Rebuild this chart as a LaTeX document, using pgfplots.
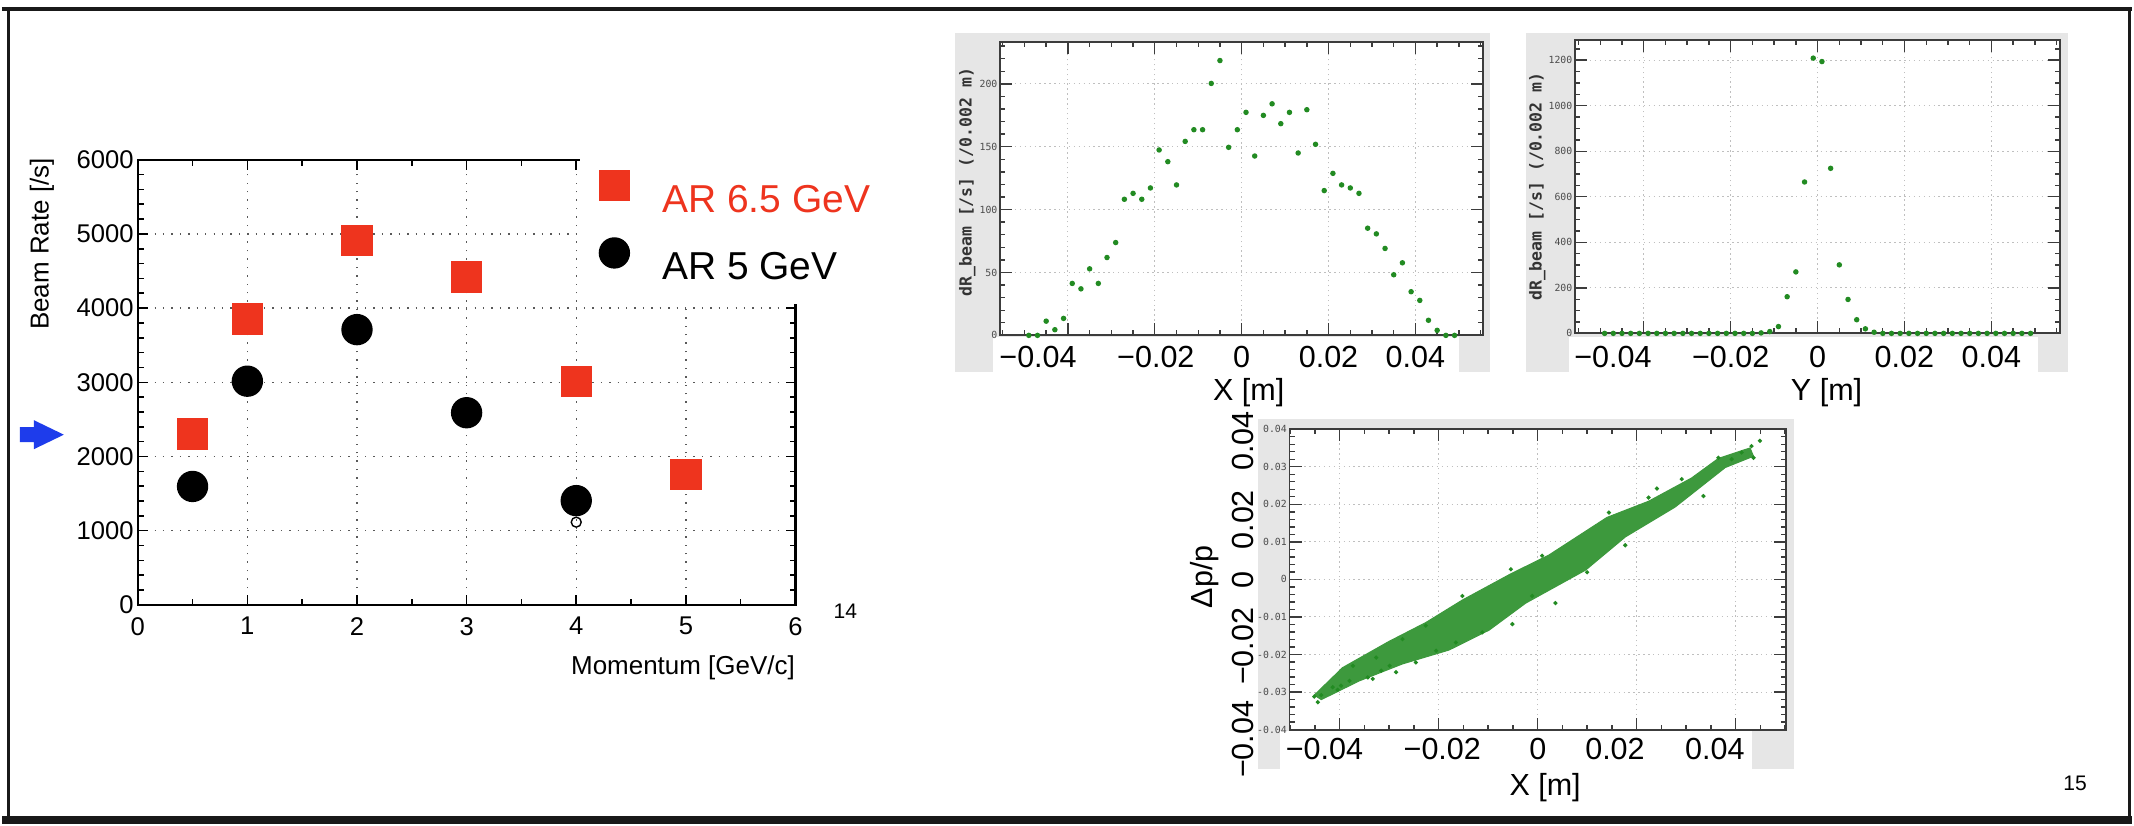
\documentclass[border=0pt]{standalone}
\usepackage{fontspec}
\setmainfont{Liberation Sans}
\setmonofont{DejaVu Sans Mono}
\usepackage{pgfplots}
\pgfplotsset{compat=1.18}
\definecolor{arred}{RGB}{238,52,30}
\definecolor{arblue}{RGB}{30,60,235}
\definecolor{dgreen}{RGB}{34,139,34}
\definecolor{rootgrey}{RGB}{230,230,230}
\definecolor{framegrey}{RGB}{60,60,60}
\newcommand{\bigf}{\fontsize{8.7}{10}\selectfont}
\pgfplotsset{
 rootsmall/.style={
   scale only axis, anchor=south west,
   axis background/.style={fill=white},
   tick align=inside,
   axis line style={framegrey, line width=0.5pt},
   tick style={framegrey, line width=0.4pt},
   major tick length=0.12cm, minor tick length=0.05cm,
   grid=major, major grid style={black!25, densely dotted, line width=0.3pt},
   yticklabel style={font=\ttfamily\fontsize{2.8}{3}\selectfont, text=black!70, inner sep=0.6pt},
   /pgf/number format/assume math mode=true,
   /pgf/number format/1000 sep={},
   xticklabels={},
   scaled ticks=false,
 }
}
\begin{document}
\begin{tikzpicture}
\fill[white] (0,0) rectangle (21.34,8.26);
% slide frame
\fill[black!90] (0,0) rectangle (21.34,0.08);
\draw[black!90, line width=0.04cm] (0,8.17) -- (21.34,8.17);
\draw[black!90, line width=0.03cm] (0.065,8.19) -- (0.065,0);
\draw[black!90, line width=0.03cm] (21.31,8.19) -- (21.31,0);

% ---------------- left plot ----------------
\begin{axis}[at={(1.36cm,2.20cm)}, anchor=south west, scale only axis,
  width=6.59cm, height=4.46cm,
  xmin=0, xmax=6, ymin=0, ymax=6000,
  xtick={0,1,...,6}, ytick={0,1000,...,6000},
  minor x tick num=1, minor y tick num=4,
  tick align=inside, major tick length=0.10cm, minor tick length=0.06cm,
  axis line style={line width=0.7pt},
  tick style={black, line width=0.45pt},
  grid=major, major grid style={black!65, dotted, line width=0.4pt},
  ticklabel style={font=\fontsize{7.3}{8}\selectfont},
  yticklabel style={inner xsep=1pt},
  /pgf/number format/assume math mode=true,
  scaled ticks=false, yticklabel style={/pgf/number format/1000 sep={}},
  xlabel={Momentum [GeV/c]}, ylabel={Beam Rate [/s]},
  label style={font=\fontsize{7.4}{8}\selectfont},
  xlabel style={at={(axis description cs:1,-0.141)}, anchor=east, inner sep=0pt},
  ylabel style={at={(axis description cs:-0.1457,1.005)}, anchor=east, inner sep=0pt},
  legend style={at={(axis description cs:0.672,1.022)}, anchor=north west,
    draw=none, fill=white, inner xsep=0.19cm, inner ysep=0.2cm,
    font=\fontsize{11.1}{13}\selectfont, row sep=0.21cm,
    nodes={inner sep=0pt, text height=0.30cm, text depth=0.05cm}},
  legend cell align=left,
  legend image code/.code={\path[draw=none,fill=none] (0,0) -- (0.63cm,0); \draw[#1] plot coordinates {(0.15cm,0.14cm)};},
]
\addplot[only marks, mark=square*, mark size=0.15cm, color=arred] coordinates {
 (0.5,2305) (1,3852) (2,4915) (3,4419) (4,3015) (5,1753)};
\addlegendentry{\textcolor{arred}{AR 6.5 GeV}}
\addplot[only marks, mark=*, mark size=0.15cm, color=black] coordinates {
 (0.5,1596) (1,3015) (2,3710) (3,2590) (4,1405)};
\addlegendentry{AR 5 GeV}
\addplot[only marks, mark=o, mark size=0.05cm, color=black, line width=0.4pt, forget plot] coordinates {(4,1115)};
\end{axis}
% blue arrow
\fill[arblue] (0.18,3.98) -- (0.32,3.98) -- (0.32,4.05) -- (0.62,3.905) -- (0.32,3.76) -- (0.32,3.83) -- (0.18,3.83) -- cycle;
\node[font=\fontsize{6}{7}\selectfont] at (8.45,2.14) {14};

% ---------------- top middle: X distribution ----------------
\fill[rootgrey] (9.55,7.93) rectangle (14.91,4.53);
\fill[white] (9.93,4.88) rectangle (14.60,4.50);
\begin{axis}[rootsmall, at={(10.00cm,4.90cm)}, width=4.84cm, height=2.94cm,
  xmin=-0.0556, xmax=0.0556, ymin=0, ymax=233.3,
  xtick={-0.04,-0.02,0,0.02,0.04},
  minor xtick={-0.055,-0.05,...,0.056},
  ytick={0,50,100,150,200}, minor ytick={10,20,...,230},
  ylabel={dR\_beam [/s] (/0.002 m)},
  ylabel style={font=\ttfamily\bfseries\fontsize{4.7}{5}\selectfont, text=black!80, at={(axis description cs:-0.068,0.522)}, anchor=center, inner sep=0pt},
]
\addplot[only marks, mark=*, mark size=0.02cm, color=dgreen] table {
x y
-0.049 0
-0.047 0
-0.045 11.3
-0.043 4.5
-0.041 13.5
-0.039 41.3
-0.037 37
-0.035 52.9
-0.033 41.3
-0.031 61.9
-0.029 73.8
-0.027 108.2
-0.025 112.9
-0.023 108.2
-0.021 117.2
-0.019 147.4
-0.017 138.1
-0.015 119.6
-0.013 154.2
-0.011 163.5
-0.009 163.5
-0.007 200.3
-0.005 218.5
-0.003 149.5
-0.001 163.5
0.001 177.3
0.003 142.6
0.005 174.9
0.007 184.1
0.009 168.3
0.011 177.3
0.013 145
0.015 179.4
0.017 151.9
0.019 115.1
0.021 128.8
0.023 119.6
0.025 117.2
0.027 112.9
0.029 85.2
0.031 80.7
0.033 69.1
0.035 48.2
0.037 57.7
0.039 34.7
0.041 27.8
0.043 12
0.045 4
0.047 0
0.049 0
};
\end{axis}
\node[font=\bigf] at (10.38,4.68) {−0.04};
\node[font=\bigf] at (11.56,4.68) {−0.02};
\node[font=\bigf] at (12.42,4.68) {0};
\node[font=\bigf] at (13.29,4.68) {0.02};
\node[font=\bigf] at (14.16,4.68) {0.04};
\node[font=\bigf] at (12.49,4.33) {X [m]};

% ---------------- top right: Y distribution ----------------
\fill[rootgrey] (15.27,7.93) rectangle (20.70,4.53);
\fill[white] (15.70,4.88) rectangle (20.40,4.50);
\begin{axis}[rootsmall, at={(15.76cm,4.92cm)}, width=4.86cm, height=2.94cm,
  xmin=-0.0558, xmax=0.0558, ymin=0, ymax=1289,
  xtick={-0.04,-0.02,0,0.02,0.04},
  minor xtick={-0.055,-0.05,...,0.056},
  ytick={0,200,...,1200}, minor ytick={50,100,...,1250},
  ylabel={dR\_beam [/s] (/0.002 m)},
  ylabel style={font=\ttfamily\bfseries\fontsize{4.7}{5}\selectfont, text=black!80, at={(axis description cs:-0.078,0.50)}, anchor=center, inner sep=0pt},
]
\addplot[only marks, mark=*, mark size=0.02cm, color=dgreen] table {
x y
-0.049 0
-0.047 0
-0.045 0
-0.043 0
-0.041 0
-0.039 0
-0.037 0
-0.035 0
-0.033 0
-0.031 0
-0.029 0
-0.027 0
-0.025 0
-0.023 0
-0.021 0
-0.019 0
-0.017 0
-0.015 0
-0.013 2
-0.011 8
-0.009 30
-0.007 161
-0.005 270
-0.003 665
-0.001 1209
0.001 1194
0.003 725
0.005 301
0.007 149
0.009 60
0.011 20
0.013 5
0.015 0
0.017 0
0.019 0
0.021 0
0.023 0
0.025 0
0.027 0
0.029 0
0.031 0
0.033 0
0.035 0
0.037 0
0.039 0
0.041 0
0.043 0
0.045 0
0.047 0
0.049 0
};
\end{axis}
\node[font=\bigf] at (16.14,4.68) {−0.04};
\node[font=\bigf] at (17.32,4.68) {−0.02};
\node[font=\bigf] at (18.19,4.68) {0};
\node[font=\bigf] at (19.06,4.68) {0.02};
\node[font=\bigf] at (19.93,4.68) {0.04};
\node[font=\bigf] at (18.28,4.33) {Y [m]};

% ---------------- bottom: scatter ----------------
\fill[rootgrey] (12.58,4.06) rectangle (17.95,0.56);
\fill[white] (12.80,0.94) rectangle (17.53,0.50);
\begin{axis}[rootsmall, at={(12.90cm,0.95cm)}, width=4.97cm, height=3.01cm,
  xmin=-0.0501, xmax=0.0501, ymin=-0.04, ymax=0.04,
  xtick={-0.04,-0.02,0,0.02,0.04},
  minor xtick={-0.05,-0.045,...,0.051},
  ytick={-0.04,-0.03,...,0.041}, minor ytick={-0.04,-0.038,...,0.041},
  yticklabels={-0.04,-0.03,-0.02,-0.01,0,0.01,0.02,0.03,0.04},
]
\addplot[fill=dgreen!88!white, draw=dgreen!88!white, line width=0.3pt] coordinates {
 (-0.0451,-0.0308) (-0.0394,-0.0235) (-0.0300,-0.0165) (-0.0226,-0.0115) (-0.0152,-0.0055)
 (-0.0054,0.0015) (0.0023,0.0065) (0.0140,0.0165) (0.0224,0.0208) (0.0311,0.0270)
 (0.0365,0.0322) (0.0429,0.0350)
 (0.0436,0.0328) (0.0379,0.0298) (0.0278,0.0193) (0.0177,0.0113) (0.0097,0.0025)
 (-0.0024,-0.0063) (-0.0098,-0.0135) (-0.0179,-0.0188) (-0.0273,-0.0225) (-0.0360,-0.0270)
 (-0.0437,-0.0320)} -- cycle;
\addplot[only marks, mark=*, mark size=0.013cm, color=dgreen] table {
x y
-0.0451 -0.0312
-0.0444 -0.0327
-0.0437 -0.0308
-0.0414 -0.0287
-0.0404 -0.0294
-0.0397 -0.0283
-0.0380 -0.0270
-0.0373 -0.0230
-0.0343 -0.0261
-0.0333 -0.0265
-0.0316 -0.0243
-0.0299 -0.0230
-0.0326 -0.0208
-0.0273 -0.0159
-0.0226 -0.0123
-0.0286 -0.0247
-0.0246 -0.0221
-0.0205 -0.0190
-0.0165 -0.0168
-0.0112 -0.0141
-0.0051 -0.0119
-0.0011 -0.0044
0.0036 -0.0063
0.0100 0.0019
0.0177 0.0091
0.0241 0.0242
0.0291 0.0267
0.0335 0.0222
0.0365 0.0324
0.0392 0.0320
0.0412 0.0338
0.0432 0.0355
0.0449 0.0369
0.0436 0.0324
-0.0152 -0.0044
-0.0054 0.0027
0.0009 0.0063
0.0144 0.0178
0.0224 0.0218
};
\end{axis}
\node[font=\bigf, rotate=90] at (12.43,3.843) {0.04};
\node[font=\bigf, rotate=90] at (12.43,3.053) {0.02};
\node[font=\bigf, rotate=90] at (12.43,2.45) {0};
\node[font=\bigf, rotate=90] at (12.43,1.785) {−0.02};
\node[font=\bigf, rotate=90] at (12.43,0.853) {−0.04};
\node[font=\bigf, rotate=90] at (12.05,2.48) {Δp/p};
\node[font=\bigf] at (13.25,0.753) {−0.04};
\node[font=\bigf] at (14.43,0.753) {−0.02};
\node[font=\bigf] at (15.387,0.753) {0};
\node[font=\bigf] at (16.16,0.753) {0.02};
\node[font=\bigf] at (17.16,0.753) {0.04};
\node[font=\bigf] at (15.46,0.37) {X [m]};
\node[font=\fontsize{6}{7}\selectfont] at (20.77,0.41) {15};
\end{tikzpicture}
\end{document}
